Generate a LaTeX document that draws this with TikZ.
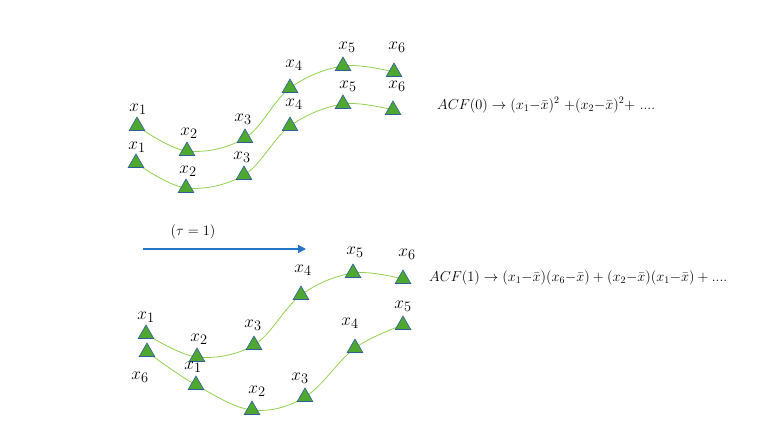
\documentclass[tikz,border=0pt]{standalone}
\usepackage{amsmath,amssymb}
\usepackage{xcolor}
\usepackage{tikz}
\usetikzlibrary{arrows.meta,shapes.geometric,backgrounds}
\definecolor{trifill}{HTML}{4EA72E}
\definecolor{triedge}{HTML}{2E5E9E}
\definecolor{wave}{HTML}{92D050}
\definecolor{lagblue}{HTML}{2574C6}

\begin{document}
\begin{tikzpicture}[x=1pt, y=-1pt, every node/.style={inner sep=0pt},
      tri/.style={regular polygon, regular polygon sides=3, draw=triedge, line width=0.6pt,
        fill=trifill, minimum size=18pt},
      lab/.style={font=\fontsize{19}{22}\selectfont},
      eqn/.style={font=\fontsize{14}{17}\selectfont, anchor=west},
      wavy/.style={draw=wave, line width=0.8pt}]
    \useasboundingbox (0,0) rectangle (772,438);
    % tau = 0: two copies of the series
    \foreach \n/\x/\y/\lx/\ly/\t in {1/137/126/138/109/1, 2/187/151/189/133/2, 3/245/138/243/119/3,
        4/290/88/294/65/4, 5/343/66/347/47/5, 6/394/72/397/47/6}{
      \node[tri] (a\n) at (\x,\y) {};
      \node[lab] (la\n) at (\lx,\ly) {$x_{\t}$};
    }
    \foreach \n/\x/\y/\lx/\ly/\t in {1/136/163/137/147/1, 2/186/188/188/171/2, 3/244/175/242/157/3,
        4/290/126/294/104/4, 5/343/104/348/86/5, 6/393/110/397/86/6}{
      \node[tri] (b\n) at (\x,\y) {};
      \node[lab] (lb\n) at (\lx,\ly) {$x_{\t}$};
    }
    % tau = 1: the series and its shifted copy
    \foreach \n/\x/\y/\lx/\ly/\t in {1/146/334/146/317/1, 2/197/357/199/339/2, 3/254/345/253/325/3,
        4/301/295/303/270/4, 5/353/273/355/252/5, 6/403/279/407/254/6}{
      \node[tri] (c\n) at (\x,\y) {};
      \node[lab] (lc\n) at (\lx,\ly) {$x_{\t}$};
    }
    \foreach \n/\x/\y/\lx/\ly/\t in {1/147/352/140/377/6, 2/196/385/193/367/1, 3/252/410/257/391/2,
        4/305/397/300/378/3, 5/355/348/350/323/4, 6/403/325/403/306/5}{
      \node[tri] (d\n) at (\x,\y) {};
      \node[lab] (ld\n) at (\lx,\ly) {$x_{\t}$};
    }
    \begin{scope}[on background layer]
      \foreach \s in {a,b,c,d}
        \draw[wavy] plot[smooth, tension=0.6] coordinates {(\s1) (\s2) (\s3) (\s4) (\s5) (\s6)};
    \end{scope}
    % lag arrow
    \coordinate (sa) at (143,249);
    \coordinate (sb) at (306,249);
    \draw[lagblue, line width=1.5pt, -{Triangle[length=8pt, width=8pt]}] (sa) -- (sb);
    \node[font=\fontsize{14}{17}\selectfont] (tau) at (193,232) {$(\tau=1)$};
    % formulas
    \node[eqn] (acf0) at (437,105) {$ACF(0) \rightarrow (x_1{-}\bar{x})^2\ {+}(x_2{-}\bar{x})^2{+}$ ....};
    \node[eqn] (acf1) at (429,278) {$ACF(1) \rightarrow (x_1{-}\bar{x})(x_6{-}\bar{x}) + (x_2{-}\bar{x})(x_1{-}\bar{x}) + {}$....};
  \end{tikzpicture}
\end{document}
